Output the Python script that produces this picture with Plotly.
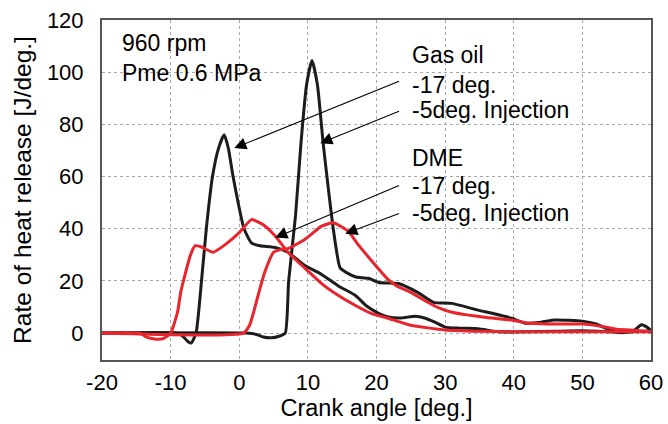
import plotly.graph_objects as go

# Crank angle [deg.] and rate of heat release [J/deg.]
gasoil_m17_x = [-20, -9, -8.3, -7.5, -7, -6.3, -5.5, -4.8, -3.9, -3.0, -2.2, -1.6, -0.9, 0.7, 1.8, 3.0, 5.2, 7.1, 9.5, 12, 14.5, 16.9, 18.5, 20.3, 21.7, 23.5, 25.7, 27, 28.5, 30, 32, 34.8, 37.8, 42, 46, 50, 54, 57, 60]
gasoil_m17_y = [0, 0, -1, -3.2, -3.8, 0, 20, 40, 60, 71, 76, 71, 60, 40, 34.5, 33.5, 32.8, 31, 26, 22.5, 18, 14.5, 10.5, 7.6, 6.2, 5.8, 6.5, 5.8, 4.2, 2.3, 1.9, 1.7, 0.5, 0.5, 0.7, 0.9, 0.5, 0.5, 0.8]

gasoil_m5_x = [-20, 1, 2.5, 3.5, 4.7, 5.8, 6.7, 7.2, 8.2, 9.0, 9.8, 10.6, 11.4, 12.2, 13.0, 13.7, 14.7, 15.9, 17, 18.8, 20.3, 23.2, 26, 28.3, 31, 34.8, 37, 39.7, 41.7, 44, 46, 50, 52, 53.4, 55, 56.5, 57.5, 58.6, 59.3, 60]
gasoil_m5_y = [0, 0, -0.5, -1.5, -1.8, -1.2, 0, 20, 45, 73, 95, 104.5, 95, 73.5, 55, 40, 25, 22.8, 21.5, 21, 19.4, 19, 15.6, 11.8, 11.4, 8.8, 7.5, 5.7, 3.8, 4.2, 5, 4.6, 3.5, 1.9, 0.3, 0.3, 1, 3.2, 2.5, 1]

dme_m17_x = [-20, -14.5, -13.5, -12.1, -11, -10, -9, -8.5, -7.1, -6.4, -5.5, -3.8, -2, 0, 1.8, 3.5, 5.2, 7.1, 9.6, 12, 14.4, 17, 19.2, 21.7, 25, 30, 35, 40, 45, 50, 55, 60]
dme_m17_y = [0, 0, -1.5, -2.3, -2, 0, 8, 16, 30, 33.5, 33, 31, 34, 38.5, 43.5, 41.5, 37.3, 31, 24.8, 19, 14.5, 10.5, 7.6, 5.7, 3, 1.2, 0.7, 0.5, 0.5, 0.5, 0.5, 0.5]

dme_m5_x = [-20, 0.6, 1.5, 2.3, 3, 3.8, 5, 6, 7.1, 9.6, 12, 13.7, 15.9, 17.3, 19.2, 20.5, 21.7, 23, 25, 27, 29, 31, 33.4, 36, 39.7, 41.7, 45, 50, 53, 55, 58, 60]
dme_m5_y = [0, 0, 3, 10, 17, 24, 31, 32, 32.4, 36, 41, 42.3, 39, 34, 28, 24, 20.5, 18, 15.6, 12.5, 9.8, 8, 6.9, 6, 5, 4, 3.5, 3.5, 2.5, 1.5, 1, 0.5]

x_ticks = [-20, -10, 0, 10, 20, 30, 40, 50, 60]
y_ticks = [0, 20, 40, 60, 80, 100, 120]

BLACK = "#1c1c1c"
RED = "#e8242c"
FONT = "Liberation Sans, Arial, sans-serif"

fig = go.Figure()
for xs, ys, col in [(gasoil_m17_x, gasoil_m17_y, BLACK), (gasoil_m5_x, gasoil_m5_y, BLACK),
                    (dme_m17_x, dme_m17_y, RED), (dme_m5_x, dme_m5_y, RED)]:
    fig.add_trace(go.Scatter(x=xs, y=ys, mode="lines",
                             line=dict(color=col, width=3, shape="spline", smoothing=0.5),
                             showlegend=False, hoverinfo="skip"))

ann = []
# text labels
for txt, x, y in [("960 rpm", -17.4, 111), ("Pme 0.6 MPa", -17.4, 99.5),
                  ("Gas oil", 24.9, 106.7), ("-17 deg.", 24.9, 95.2), ("-5deg. Injection", 24.9, 85.7),
                  ("DME", 24.9, 67), ("-17 deg.", 24.9, 56.4), ("-5deg. Injection", 24.9, 46.1)]:
    ann.append(dict(x=x, y=y, xref="x", yref="y", text=txt, showarrow=False,
                    xanchor="left", yanchor="middle", font=dict(size=23, color="black", family=FONT)))
# arrows (tail -> tip)
for tx, ty, hx, hy in [(23.5, 96.8, -0.73, 70.9), (23.5, 85.3, 11.8, 72.8),
                       (23.5, 56.8, 5.25, 36.6), (23.5, 46.1, 15.45, 38.1)]:
    ann.append(dict(x=hx, y=hy, ax=tx, ay=ty, xref="x", yref="y", axref="x", ayref="y",
                    text="", showarrow=True, arrowhead=2, arrowsize=2.2, arrowwidth=1.1,
                    arrowcolor="black", standoff=0))

fig.update_layout(
    width=668, height=424,
    margin=dict(l=102, r=17, t=20, b=64, autoexpand=False),
    paper_bgcolor="white", plot_bgcolor="white",
    font=dict(family=FONT, size=22, color="black"),
    annotations=ann,
    xaxis=dict(range=[-20, 60], tickvals=x_ticks, ticktext=[str(v) for v in x_ticks],
               showgrid=True, gridcolor="#a8a8a8", griddash="dot", gridwidth=1.2,
               showline=True, linecolor="#555555", linewidth=2, mirror=True,
               zeroline=False, ticks="", ticklabelstandoff=2, automargin=False,
               tickfont=dict(size=22),
               title=dict(text="Crank angle [deg.]", font=dict(size=23.5), standoff=0)),
    yaxis=dict(range=[-10.3, 120], tickvals=y_ticks, ticktext=[str(v) for v in y_ticks],
               showgrid=True, gridcolor="#a8a8a8", griddash="dot", gridwidth=1.2,
               showline=True, linecolor="#555555", linewidth=2, mirror=True,
               zeroline=False, ticks="", ticklabelstandoff=12, automargin=False,
               tickfont=dict(size=22),
               title=dict(text="Rate of heat release [J/deg.]", font=dict(size=24.5), standoff=8)),
)

fig.write_html("out.html")
